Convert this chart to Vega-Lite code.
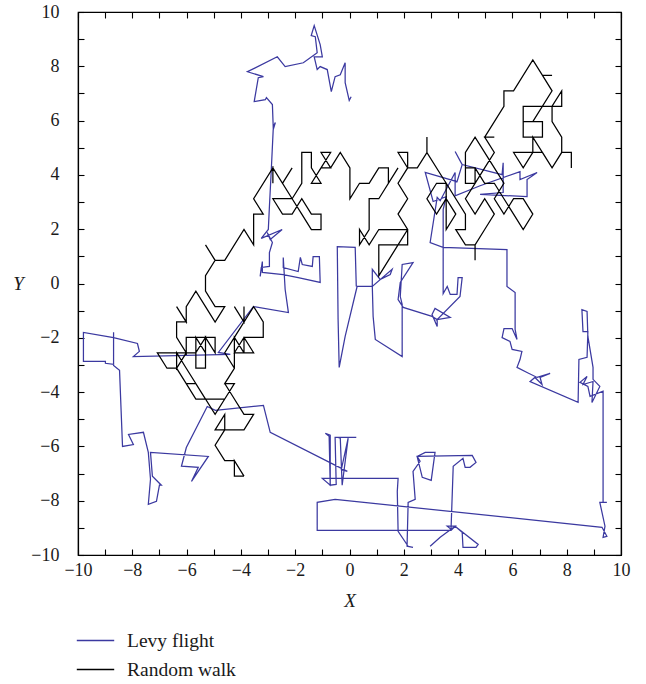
{
"$schema": "https://vega.github.io/schema/vega-lite/v6.json",
"width": 543, "height": 543,
"autosize": {"type": "none"},
"padding": {"left": 78, "top": 12, "right": 25, "bottom": 129},
"config": {
  "view": {"stroke": "black", "strokeWidth": 1.2},
  "font": "Liberation Serif",
  "axis": {"labelFont": "Liberation Serif", "titleFont": "Liberation Serif", "labelFontSize": 18, "titleFontSize": 19, "labelColor": "#1a1a1a", "titleColor": "#1a1a1a", "domainColor": "black", "tickColor": "black", "grid": false, "tickSize": -6, "tickWidth": 1.1, "domainWidth": 1.2, "labelFlush": false, "labelOverlap": false, "titleFontWeight": "normal"},
  "legend": {"labelFont": "Liberation Serif", "labelFontSize": 19.5, "labelColor": "#1a1a1a"}
},
"data": {"values": [
{"s":"Levy flight","o":1,"x":0.06,"y":6.88},{"s":"Levy flight","o":2,"x":-0.01,"y":6.74},{"s":"Levy flight","o":3,"x":-0.16,"y":7.40},{"s":"Levy flight","o":4,"x":-0.16,"y":8.13},{"s":"Levy flight","o":5,"x":-0.34,"y":7.69},{"s":"Levy flight","o":6,"x":-0.53,"y":7.62},{"s":"Levy flight","o":7,"x":-0.67,"y":7.07},{"s":"Levy flight","o":8,"x":-0.82,"y":7.88},{"s":"Levy flight","o":9,"x":-1.08,"y":7.99},{"s":"Levy flight","o":10,"x":-1.19,"y":7.88},
{"s":"Levy flight","o":11,"x":-1.30,"y":8.35},{"s":"Levy flight","o":12,"x":-1.00,"y":8.35},{"s":"Levy flight","o":13,"x":-1.08,"y":8.80},{"s":"Levy flight","o":14,"x":-1.30,"y":9.50},{"s":"Levy flight","o":15,"x":-1.41,"y":9.13},{"s":"Levy flight","o":16,"x":-1.26,"y":9.09},{"s":"Levy flight","o":17,"x":-1.19,"y":8.50},{"s":"Levy flight","o":18,"x":-1.70,"y":8.13},{"s":"Levy flight","o":19,"x":-2.37,"y":7.99},{"s":"Levy flight","o":20,"x":-2.66,"y":8.35},
{"s":"Levy flight","o":21,"x":-3.76,"y":7.80},{"s":"Levy flight","o":22,"x":-3.17,"y":7.62},{"s":"Levy flight","o":23,"x":-3.36,"y":7.58},{"s":"Levy flight","o":24,"x":-3.51,"y":6.70},{"s":"Levy flight","o":25,"x":-3.10,"y":6.77},{"s":"Levy flight","o":26,"x":-3.06,"y":6.85},{"s":"Levy flight","o":27,"x":-2.84,"y":6.59},{"s":"Levy flight","o":28,"x":-2.81,"y":5.78},{"s":"Levy flight","o":29,"x":-2.73,"y":5.93},{"s":"Levy flight","o":30,"x":-2.81,"y":5.67},
{"s":"Levy flight","o":31,"x":-2.88,"y":4.20},{"s":"Levy flight","o":32,"x":-2.95,"y":2.83},{"s":"Levy flight","o":33,"x":-2.99,"y":1.99},{"s":"Levy flight","o":34,"x":-3.25,"y":1.66},{"s":"Levy flight","o":35,"x":-2.48,"y":1.99},{"s":"Levy flight","o":36,"x":-2.92,"y":1.62},{"s":"Levy flight","o":37,"x":-3.03,"y":1.88},{"s":"Levy flight","o":38,"x":-2.84,"y":1.51},{"s":"Levy flight","o":39,"x":-2.95,"y":1.14},{"s":"Levy flight","o":40,"x":-2.95,"y":0.63},
{"s":"Levy flight","o":41,"x":-3.25,"y":0.59},{"s":"Levy flight","o":42,"x":-3.29,"y":0.26},{"s":"Levy flight","o":43,"x":-3.21,"y":0.81},{"s":"Levy flight","o":44,"x":-3.21,"y":0.41},{"s":"Levy flight","o":45,"x":-2.44,"y":0.33},{"s":"Levy flight","o":46,"x":-1.89,"y":0.22},{"s":"Levy flight","o":47,"x":-1.08,"y":0.04},{"s":"Levy flight","o":48,"x":-1.11,"y":0.99},{"s":"Levy flight","o":49,"x":-1.34,"y":0.99},{"s":"Levy flight","o":50,"x":-1.37,"y":0.63},
{"s":"Levy flight","o":51,"x":-1.74,"y":0.70},{"s":"Levy flight","o":52,"x":-1.81,"y":0.96},{"s":"Levy flight","o":53,"x":-1.89,"y":0.44},{"s":"Levy flight","o":54,"x":-2.44,"y":0.59},{"s":"Levy flight","o":55,"x":-2.44,"y":0.96},{"s":"Levy flight","o":56,"x":-2.37,"y":-0.22},{"s":"Levy flight","o":57,"x":-2.25,"y":-1.07},{"s":"Levy flight","o":58,"x":-3.54,"y":-0.85},{"s":"Levy flight","o":59,"x":-4.83,"y":-2.54},{"s":"Levy flight","o":60,"x":-4.39,"y":-2.61},
{"s":"Levy flight","o":61,"x":-7.96,"y":-2.69},{"s":"Levy flight","o":62,"x":-7.74,"y":-2.50},{"s":"Levy flight","o":63,"x":-7.81,"y":-2.21},{"s":"Levy flight","o":64,"x":-8.69,"y":-1.99},{"s":"Levy flight","o":65,"x":-9.80,"y":-1.80},{"s":"Levy flight","o":66,"x":-9.80,"y":-2.87},{"s":"Levy flight","o":67,"x":-8.99,"y":-2.87},{"s":"Levy flight","o":68,"x":-8.99,"y":-2.94},{"s":"Levy flight","o":69,"x":-8.69,"y":-2.98},{"s":"Levy flight","o":70,"x":-8.69,"y":-1.80},
{"s":"Levy flight","o":71,"x":-8.69,"y":-3.02},{"s":"Levy flight","o":72,"x":-8.47,"y":-3.20},{"s":"Levy flight","o":73,"x":-8.36,"y":-6.00},{"s":"Levy flight","o":74,"x":-7.96,"y":-5.93},{"s":"Levy flight","o":75,"x":-8.14,"y":-5.56},{"s":"Levy flight","o":76,"x":-7.59,"y":-5.48},{"s":"Levy flight","o":77,"x":-7.41,"y":-6.22},{"s":"Levy flight","o":78,"x":-7.33,"y":-7.21},{"s":"Levy flight","o":79,"x":-7.41,"y":-8.13},{"s":"Levy flight","o":80,"x":-7.11,"y":-8.02},
{"s":"Levy flight","o":81,"x":-7.00,"y":-7.43},{"s":"Levy flight","o":82,"x":-6.93,"y":-7.43},{"s":"Levy flight","o":83,"x":-7.26,"y":-7.10},{"s":"Levy flight","o":84,"x":-7.33,"y":-6.22},{"s":"Levy flight","o":85,"x":-5.20,"y":-6.37},{"s":"Levy flight","o":86,"x":-5.82,"y":-7.29},{"s":"Levy flight","o":87,"x":-5.57,"y":-6.77},{"s":"Levy flight","o":88,"x":-6.19,"y":-6.73},{"s":"Levy flight","o":89,"x":-6.01,"y":-6.04},{"s":"Levy flight","o":90,"x":-5.24,"y":-4.53},
{"s":"Levy flight","o":91,"x":-4.94,"y":-4.67},{"s":"Levy flight","o":92,"x":-3.17,"y":-4.49},{"s":"Levy flight","o":93,"x":-2.92,"y":-5.48},{"s":"Levy flight","o":94,"x":-0.08,"y":-6.92},{"s":"Levy flight","o":95,"x":-0.30,"y":-6.85},{"s":"Levy flight","o":96,"x":-0.05,"y":-5.70},{"s":"Levy flight","o":97,"x":-0.27,"y":-7.43},{"s":"Levy flight","o":98,"x":-0.34,"y":-5.70},{"s":"Levy flight","o":99,"x":-0.42,"y":-5.67},{"s":"Levy flight","o":100,"x":0.25,"y":-5.67},
{"s":"Levy flight","o":101,"x":-0.53,"y":-5.67},{"s":"Levy flight","o":102,"x":-0.49,"y":-7.40},{"s":"Levy flight","o":103,"x":-0.71,"y":-7.43},{"s":"Levy flight","o":104,"x":-0.75,"y":-5.63},{"s":"Levy flight","o":105,"x":-0.89,"y":-5.52},{"s":"Levy flight","o":106,"x":-0.71,"y":-5.59},{"s":"Levy flight","o":107,"x":-0.71,"y":-7.43},{"s":"Levy flight","o":108,"x":-1.00,"y":-7.18},{"s":"Levy flight","o":109,"x":1.79,"y":-7.18},{"s":"Levy flight","o":110,"x":1.76,"y":-7.66},
{"s":"Levy flight","o":111,"x":1.79,"y":-9.13},{"s":"Levy flight","o":112,"x":2.16,"y":-9.68},{"s":"Levy flight","o":113,"x":2.34,"y":-9.72},{"s":"Levy flight","o":114,"x":2.12,"y":-9.68},{"s":"Levy flight","o":115,"x":2.16,"y":-8.06},{"s":"Levy flight","o":116,"x":2.42,"y":-7.95},{"s":"Levy flight","o":117,"x":2.34,"y":-6.92},{"s":"Levy flight","o":118,"x":2.60,"y":-6.55},{"s":"Levy flight","o":119,"x":2.49,"y":-6.37},{"s":"Levy flight","o":120,"x":2.79,"y":-6.22},
{"s":"Levy flight","o":121,"x":3.15,"y":-6.22},{"s":"Levy flight","o":122,"x":3.01,"y":-7.25},{"s":"Levy flight","o":123,"x":2.68,"y":-7.14},{"s":"Levy flight","o":124,"x":2.49,"y":-6.37},{"s":"Levy flight","o":125,"x":4.52,"y":-6.33},{"s":"Levy flight","o":126,"x":4.66,"y":-6.59},{"s":"Levy flight","o":127,"x":4.44,"y":-6.77},{"s":"Levy flight","o":128,"x":4.26,"y":-6.77},{"s":"Levy flight","o":129,"x":4.18,"y":-6.44},{"s":"Levy flight","o":130,"x":3.82,"y":-6.73},
{"s":"Levy flight","o":131,"x":3.74,"y":-9.05},{"s":"Levy flight","o":132,"x":3.60,"y":-8.94},{"s":"Levy flight","o":133,"x":3.89,"y":-8.94},{"s":"Levy flight","o":134,"x":3.34,"y":-9.35},{"s":"Levy flight","o":135,"x":2.97,"y":-9.68},{"s":"Levy flight","o":136,"x":3.34,"y":-9.35},{"s":"Levy flight","o":137,"x":3.89,"y":-8.94},{"s":"Levy flight","o":138,"x":4.74,"y":-9.61},{"s":"Levy flight","o":139,"x":4.66,"y":-9.72},{"s":"Levy flight","o":140,"x":4.18,"y":-9.72},
{"s":"Levy flight","o":141,"x":4.15,"y":-9.16},{"s":"Levy flight","o":142,"x":3.89,"y":-8.94},{"s":"Levy flight","o":143,"x":3.74,"y":-9.09},{"s":"Levy flight","o":144,"x":-1.19,"y":-9.09},{"s":"Levy flight","o":145,"x":-1.19,"y":-8.06},{"s":"Levy flight","o":146,"x":-0.53,"y":-7.95},{"s":"Levy flight","o":147,"x":9.30,"y":-8.98},{"s":"Levy flight","o":148,"x":9.48,"y":-9.31},{"s":"Levy flight","o":149,"x":9.34,"y":-9.35},{"s":"Levy flight","o":150,"x":9.41,"y":-8.94},
{"s":"Levy flight","o":151,"x":9.22,"y":-8.06},{"s":"Levy flight","o":152,"x":9.48,"y":-8.06},{"s":"Levy flight","o":153,"x":9.34,"y":-8.06},{"s":"Levy flight","o":154,"x":9.34,"y":-3.97},{"s":"Levy flight","o":155,"x":8.86,"y":-4.16},{"s":"Levy flight","o":156,"x":8.78,"y":-3.79},{"s":"Levy flight","o":157,"x":8.49,"y":-3.64},{"s":"Levy flight","o":158,"x":8.75,"y":-3.42},{"s":"Levy flight","o":159,"x":8.60,"y":-3.72},{"s":"Levy flight","o":160,"x":8.97,"y":-3.61},
{"s":"Levy flight","o":161,"x":8.93,"y":-4.38},{"s":"Levy flight","o":162,"x":9.04,"y":-4.16},{"s":"Levy flight","o":163,"x":9.22,"y":-3.79},{"s":"Levy flight","o":164,"x":8.97,"y":-3.53},{"s":"Levy flight","o":165,"x":8.97,"y":-3.09},{"s":"Levy flight","o":166,"x":8.78,"y":-1.95},{"s":"Levy flight","o":167,"x":8.75,"y":-1.03},{"s":"Levy flight","o":168,"x":8.56,"y":-0.96},{"s":"Levy flight","o":169,"x":8.60,"y":-1.77},{"s":"Levy flight","o":170,"x":8.78,"y":-1.77},
{"s":"Levy flight","o":171,"x":8.75,"y":-2.72},{"s":"Levy flight","o":172,"x":8.45,"y":-2.80},{"s":"Levy flight","o":173,"x":8.42,"y":-4.38},{"s":"Levy flight","o":174,"x":6.65,"y":-3.61},{"s":"Levy flight","o":175,"x":6.83,"y":-3.46},{"s":"Levy flight","o":176,"x":7.09,"y":-3.72},{"s":"Levy flight","o":177,"x":7.02,"y":-3.46},{"s":"Levy flight","o":178,"x":7.39,"y":-3.31},{"s":"Levy flight","o":179,"x":6.91,"y":-3.46},{"s":"Levy flight","o":180,"x":6.54,"y":-3.28},
{"s":"Levy flight","o":181,"x":6.17,"y":-3.09},{"s":"Levy flight","o":182,"x":6.28,"y":-2.80},{"s":"Levy flight","o":183,"x":6.35,"y":-2.50},{"s":"Levy flight","o":184,"x":5.99,"y":-2.43},{"s":"Levy flight","o":185,"x":5.91,"y":-2.13},{"s":"Levy flight","o":186,"x":5.62,"y":-1.99},{"s":"Levy flight","o":187,"x":5.69,"y":-1.66},{"s":"Levy flight","o":188,"x":5.99,"y":-1.66},{"s":"Levy flight","o":189,"x":6.17,"y":-2.06},{"s":"Levy flight","o":190,"x":6.10,"y":-1.69},
{"s":"Levy flight","o":191,"x":6.10,"y":-0.33},{"s":"Levy flight","o":192,"x":5.80,"y":-0.11},{"s":"Levy flight","o":193,"x":5.80,"y":0.52},{"s":"Levy flight","o":194,"x":5.80,"y":1.25},{"s":"Levy flight","o":195,"x":3.45,"y":1.33},{"s":"Levy flight","o":196,"x":3.45,"y":2.72},{"s":"Levy flight","o":197,"x":3.56,"y":3.20},{"s":"Levy flight","o":198,"x":3.08,"y":3.02},{"s":"Levy flight","o":199,"x":2.79,"y":4.09},{"s":"Levy flight","o":200,"x":3.96,"y":3.75},
{"s":"Levy flight","o":201,"x":4.15,"y":4.38},{"s":"Levy flight","o":202,"x":3.89,"y":4.86},{"s":"Levy flight","o":203,"x":4.15,"y":4.38},{"s":"Levy flight","o":204,"x":5.62,"y":4.01},{"s":"Levy flight","o":205,"x":5.66,"y":4.45},{"s":"Levy flight","o":206,"x":5.66,"y":3.35},{"s":"Levy flight","o":207,"x":4.81,"y":3.28},{"s":"Levy flight","o":208,"x":6.54,"y":3.20},{"s":"Levy flight","o":209,"x":6.54,"y":3.83},{"s":"Levy flight","o":210,"x":6.91,"y":4.09},
{"s":"Levy flight","o":211,"x":6.28,"y":3.83},{"s":"Levy flight","o":212,"x":6.28,"y":4.12},{"s":"Levy flight","o":213,"x":4.81,"y":3.60},{"s":"Levy flight","o":213.5,"x":3.89,"y":3.23},{"s":"Levy flight","o":213.7,"x":3.89,"y":4.09},{"s":"Levy flight","o":214,"x":3.34,"y":3.05},{"s":"Levy flight","o":215,"x":3.23,"y":3.17},{"s":"Levy flight","o":216,"x":2.97,"y":1.51},{"s":"Levy flight","o":217,"x":3.45,"y":1.33},{"s":"Levy flight","o":218,"x":3.45,"y":0.07},{"s":"Levy flight","o":219,"x":3.45,"y":-0.37},{"s":"Levy flight","o":220,"x":3.60,"y":-0.11},
{"s":"Levy flight","o":221,"x":3.71,"y":-0.40},{"s":"Levy flight","o":222,"x":3.96,"y":-0.40},{"s":"Levy flight","o":223,"x":4.00,"y":0.22},{"s":"Levy flight","o":224,"x":4.15,"y":0.22},{"s":"Levy flight","o":225,"x":4.07,"y":-0.48},{"s":"Levy flight","o":226,"x":3.23,"y":-1.33},{"s":"Levy flight","o":227,"x":3.71,"y":-1.25},{"s":"Levy flight","o":228,"x":3.15,"y":-0.92},{"s":"Levy flight","o":229,"x":3.04,"y":-1.14},{"s":"Levy flight","o":230,"x":3.23,"y":-1.58},
{"s":"Levy flight","o":231,"x":3.23,"y":-1.33},{"s":"Levy flight","o":232,"x":3.04,"y":-1.21},{"s":"Levy flight","o":233,"x":1.98,"y":-0.88},{"s":"Levy flight","o":234,"x":1.79,"y":-0.59},{"s":"Levy flight","o":235,"x":1.87,"y":0.04},{"s":"Levy flight","o":236,"x":2.34,"y":0.77},{"s":"Levy flight","o":237,"x":1.94,"y":0.70},{"s":"Levy flight","o":238,"x":1.87,"y":-0.48},{"s":"Levy flight","o":239,"x":1.94,"y":-0.77},{"s":"Levy flight","o":240,"x":1.94,"y":-2.69},
{"s":"Levy flight","o":241,"x":0.95,"y":-2.06},{"s":"Levy flight","o":242,"x":0.87,"y":-1.21},{"s":"Levy flight","o":243,"x":0.84,"y":-0.11},{"s":"Levy flight","o":244,"x":0.84,"y":0.52},{"s":"Levy flight","o":245,"x":1.13,"y":0.15},{"s":"Levy flight","o":246,"x":1.50,"y":0.33},{"s":"Levy flight","o":247,"x":1.57,"y":0.52},{"s":"Levy flight","o":248,"x":0.84,"y":-0.11},{"s":"Levy flight","o":249,"x":0.28,"y":-0.11},{"s":"Levy flight","o":250,"x":-0.16,"y":-1.95},
{"s":"Levy flight","o":251,"x":-0.38,"y":-3.09},{"s":"Levy flight","o":252,"x":-0.42,"y":-1.33},{"s":"Levy flight","o":253,"x":-0.45,"y":1.36},{"s":"Levy flight","o":254,"x":0.21,"y":1.33},{"s":"Levy flight","o":255,"x":0.25,"y":-0.11},
{"s":"Random walk","o":1,"x":-3.886,"y":-7.092},{"s":"Random walk","o":2,"x":-4.240,"y":-7.092},{"s":"Random walk","o":3,"x":-4.240,"y":-6.525},{"s":"Random walk","o":4,"x":-3.886,"y":-7.092},{"s":"Random walk","o":5,"x":-4.240,"y":-6.525},{"s":"Random walk","o":6,"x":-4.595,"y":-6.525},{"s":"Random walk","o":7,"x":-4.950,"y":-5.957},{"s":"Random walk","o":8,"x":-4.595,"y":-5.390},{"s":"Random walk","o":9,"x":-4.950,"y":-5.390},{"s":"Random walk","o":10,"x":-4.595,"y":-4.822},
{"s":"Random walk","o":11,"x":-4.595,"y":-5.390},{"s":"Random walk","o":12,"x":-3.886,"y":-5.390},{"s":"Random walk","o":13,"x":-3.531,"y":-4.822},{"s":"Random walk","o":14,"x":-3.886,"y":-4.822},{"s":"Random walk","o":15,"x":-4.240,"y":-4.255},{"s":"Random walk","o":16,"x":-4.595,"y":-3.687},{"s":"Random walk","o":17,"x":-4.240,"y":-3.120},{"s":"Random walk","o":18,"x":-4.240,"y":-1.985},{"s":"Random walk","o":19,"x":-3.886,"y":-2.552},{"s":"Random walk","o":20,"x":-3.531,"y":-2.552},
{"s":"Random walk","o":21,"x":-3.886,"y":-1.985},{"s":"Random walk","o":22,"x":-4.240,"y":-2.552},{"s":"Random walk","o":23,"x":-3.886,"y":-2.552},{"s":"Random walk","o":24,"x":-3.886,"y":-1.985},{"s":"Random walk","o":25,"x":-3.177,"y":-1.985},{"s":"Random walk","o":26,"x":-3.177,"y":-1.417},{"s":"Random walk","o":27,"x":-3.531,"y":-0.850},{"s":"Random walk","o":28,"x":-3.886,"y":-1.417},{"s":"Random walk","o":29,"x":-4.240,"y":-0.850},{"s":"Random walk","o":30,"x":-3.886,"y":-1.417},
{"s":"Random walk","o":31,"x":-3.886,"y":-0.850},{"s":"Random walk","o":32,"x":-3.886,"y":-1.417},{"s":"Random walk","o":33,"x":-4.240,"y":-1.985},{"s":"Random walk","o":34,"x":-4.595,"y":-2.552},{"s":"Random walk","o":35,"x":-4.240,"y":-3.120},{"s":"Random walk","o":36,"x":-4.595,"y":-3.687},{"s":"Random walk","o":37,"x":-4.240,"y":-3.687},{"s":"Random walk","o":38,"x":-4.595,"y":-4.255},{"s":"Random walk","o":39,"x":-4.950,"y":-4.822},{"s":"Random walk","o":40,"x":-6.013,"y":-3.120},
{"s":"Random walk","o":41,"x":-6.368,"y":-2.552},{"s":"Random walk","o":42,"x":-6.368,"y":-3.120},{"s":"Random walk","o":43,"x":-6.013,"y":-2.552},{"s":"Random walk","o":44,"x":-6.368,"y":-2.552},{"s":"Random walk","o":45,"x":-7.077,"y":-2.552},{"s":"Random walk","o":46,"x":-6.723,"y":-3.120},{"s":"Random walk","o":47,"x":-6.368,"y":-3.120},{"s":"Random walk","o":48,"x":-5.659,"y":-4.255},{"s":"Random walk","o":49,"x":-4.595,"y":-4.255},{"s":"Random walk","o":50,"x":-5.304,"y":-4.255},
{"s":"Random walk","o":51,"x":-5.659,"y":-3.687},{"s":"Random walk","o":52,"x":-6.013,"y":-3.687},{"s":"Random walk","o":53,"x":-6.368,"y":-3.120},{"s":"Random walk","o":54,"x":-6.368,"y":-2.552},{"s":"Random walk","o":55,"x":-5.659,"y":-2.552},{"s":"Random walk","o":56,"x":-5.659,"y":-1.985},{"s":"Random walk","o":57,"x":-5.304,"y":-2.552},{"s":"Random walk","o":58,"x":-5.304,"y":-1.985},{"s":"Random walk","o":59,"x":-5.659,"y":-2.552},{"s":"Random walk","o":60,"x":-5.659,"y":-3.120},
{"s":"Random walk","o":61,"x":-5.304,"y":-3.120},{"s":"Random walk","o":62,"x":-5.304,"y":-1.985},{"s":"Random walk","o":63,"x":-4.950,"y":-2.552},{"s":"Random walk","o":64,"x":-4.950,"y":-1.985},{"s":"Random walk","o":65,"x":-6.013,"y":-1.985},{"s":"Random walk","o":66,"x":-6.013,"y":-2.552},{"s":"Random walk","o":67,"x":-6.368,"y":-1.985},{"s":"Random walk","o":68,"x":-6.368,"y":-1.417},{"s":"Random walk","o":69,"x":-6.013,"y":-1.417},{"s":"Random walk","o":70,"x":-6.368,"y":-0.850},
{"s":"Random walk","o":71,"x":-6.013,"y":-1.417},{"s":"Random walk","o":72,"x":-6.013,"y":-0.850},{"s":"Random walk","o":73,"x":-5.659,"y":-0.282},{"s":"Random walk","o":74,"x":-5.304,"y":-0.850},{"s":"Random walk","o":75,"x":-4.950,"y":-1.417},{"s":"Random walk","o":76,"x":-4.595,"y":-0.850},{"s":"Random walk","o":77,"x":-4.950,"y":-0.850},{"s":"Random walk","o":78,"x":-5.304,"y":-0.282},{"s":"Random walk","o":79,"x":-5.304,"y":0.286},{"s":"Random walk","o":80,"x":-4.950,"y":0.853},
{"s":"Random walk","o":81,"x":-5.304,"y":1.421},{"s":"Random walk","o":82,"x":-4.950,"y":0.853},{"s":"Random walk","o":83,"x":-4.595,"y":0.853},{"s":"Random walk","o":84,"x":-3.886,"y":1.988},{"s":"Random walk","o":85,"x":-3.531,"y":1.421},{"s":"Random walk","o":86,"x":-3.531,"y":2.556},{"s":"Random walk","o":87,"x":-3.177,"y":2.556},{"s":"Random walk","o":88,"x":-3.531,"y":3.123},{"s":"Random walk","o":89,"x":-2.822,"y":4.258},{"s":"Random walk","o":90,"x":-2.822,"y":3.691},
{"s":"Random walk","o":91,"x":-2.822,"y":4.258},{"s":"Random walk","o":92,"x":-2.467,"y":3.691},{"s":"Random walk","o":93,"x":-2.113,"y":4.258},{"s":"Random walk","o":94,"x":-2.467,"y":3.691},{"s":"Random walk","o":95,"x":-2.113,"y":3.123},{"s":"Random walk","o":96,"x":-1.758,"y":2.556},{"s":"Random walk","o":97,"x":-1.404,"y":1.988},{"s":"Random walk","o":98,"x":-1.049,"y":1.988},{"s":"Random walk","o":99,"x":-1.049,"y":2.556},{"s":"Random walk","o":100,"x":-1.404,"y":2.556},
{"s":"Random walk","o":101,"x":-1.758,"y":3.123},{"s":"Random walk","o":102,"x":-2.113,"y":2.556},{"s":"Random walk","o":103,"x":-2.467,"y":2.556},{"s":"Random walk","o":104,"x":-2.822,"y":3.123},{"s":"Random walk","o":105,"x":-2.467,"y":3.123},{"s":"Random walk","o":106,"x":-2.113,"y":3.123},{"s":"Random walk","o":107,"x":-1.758,"y":3.691},{"s":"Random walk","o":108,"x":-1.758,"y":4.826},{"s":"Random walk","o":109,"x":-1.404,"y":4.826},{"s":"Random walk","o":110,"x":-1.404,"y":4.258},
{"s":"Random walk","o":111,"x":-1.049,"y":3.691},{"s":"Random walk","o":112,"x":-1.404,"y":3.691},{"s":"Random walk","o":113,"x":-1.049,"y":4.258},{"s":"Random walk","o":114,"x":-0.694,"y":4.826},{"s":"Random walk","o":115,"x":-1.049,"y":4.826},{"s":"Random walk","o":116,"x":-0.694,"y":4.258},{"s":"Random walk","o":117,"x":-1.049,"y":4.258},{"s":"Random walk","o":118,"x":-0.694,"y":4.258},{"s":"Random walk","o":119,"x":-0.340,"y":4.826},{"s":"Random walk","o":120,"x":0.015,"y":4.258},
{"s":"Random walk","o":121,"x":0.015,"y":3.123},{"s":"Random walk","o":122,"x":0.369,"y":3.691},{"s":"Random walk","o":123,"x":0.724,"y":3.691},{"s":"Random walk","o":124,"x":1.079,"y":4.258},{"s":"Random walk","o":125,"x":1.433,"y":4.258},{"s":"Random walk","o":126,"x":1.433,"y":3.691},{"s":"Random walk","o":127,"x":1.788,"y":4.258},{"s":"Random walk","o":128,"x":1.079,"y":3.123},{"s":"Random walk","o":129,"x":0.724,"y":3.123},{"s":"Random walk","o":130,"x":0.724,"y":1.988},
{"s":"Random walk","o":131,"x":0.369,"y":1.421},{"s":"Random walk","o":132,"x":0.369,"y":1.988},{"s":"Random walk","o":133,"x":0.724,"y":1.421},{"s":"Random walk","o":134,"x":1.079,"y":1.988},{"s":"Random walk","o":135,"x":2.142,"y":1.988},{"s":"Random walk","o":136,"x":2.142,"y":1.421},{"s":"Random walk","o":137,"x":1.079,"y":1.421},{"s":"Random walk","o":138,"x":1.079,"y":0.286},{"s":"Random walk","o":139,"x":1.433,"y":0.853},{"s":"Random walk","o":140,"x":1.788,"y":1.421},
{"s":"Random walk","o":141,"x":2.142,"y":1.988},{"s":"Random walk","o":142,"x":1.788,"y":2.556},{"s":"Random walk","o":143,"x":2.142,"y":3.123},{"s":"Random walk","o":144,"x":1.788,"y":3.691},{"s":"Random walk","o":145,"x":2.142,"y":4.258},{"s":"Random walk","o":146,"x":1.788,"y":4.826},{"s":"Random walk","o":147,"x":2.142,"y":4.826},{"s":"Random walk","o":148,"x":2.142,"y":4.258},{"s":"Random walk","o":149,"x":2.497,"y":4.258},{"s":"Random walk","o":150,"x":2.852,"y":4.826},
{"s":"Random walk","o":151,"x":2.852,"y":5.393},{"s":"Random walk","o":152,"x":2.852,"y":4.826},{"s":"Random walk","o":153,"x":3.561,"y":3.691},{"s":"Random walk","o":154,"x":3.206,"y":3.691},{"s":"Random walk","o":155,"x":2.852,"y":3.123},{"s":"Random walk","o":156,"x":3.206,"y":2.556},{"s":"Random walk","o":157,"x":3.561,"y":3.123},{"s":"Random walk","o":158,"x":3.915,"y":2.556},{"s":"Random walk","o":159,"x":3.561,"y":1.988},{"s":"Random walk","o":160,"x":3.561,"y":3.691},
{"s":"Random walk","o":161,"x":3.915,"y":3.123},{"s":"Random walk","o":162,"x":4.270,"y":2.556},{"s":"Random walk","o":163,"x":4.270,"y":1.988},{"s":"Random walk","o":164,"x":3.915,"y":1.988},{"s":"Random walk","o":165,"x":4.270,"y":1.421},{"s":"Random walk","o":166,"x":4.625,"y":1.421},{"s":"Random walk","o":167,"x":4.625,"y":0.853},{"s":"Random walk","o":168,"x":4.625,"y":1.421},{"s":"Random walk","o":169,"x":4.979,"y":1.988},{"s":"Random walk","o":170,"x":5.334,"y":2.556},
{"s":"Random walk","o":171,"x":4.979,"y":3.123},{"s":"Random walk","o":172,"x":4.625,"y":2.556},{"s":"Random walk","o":173,"x":4.270,"y":3.123},{"s":"Random walk","o":174,"x":4.625,"y":3.691},{"s":"Random walk","o":175,"x":4.270,"y":3.691},{"s":"Random walk","o":176,"x":4.270,"y":4.826},{"s":"Random walk","o":177,"x":4.625,"y":5.393},{"s":"Random walk","o":178,"x":5.334,"y":4.258},{"s":"Random walk","o":179,"x":5.688,"y":3.691},{"s":"Random walk","o":180,"x":5.334,"y":3.123},
{"s":"Random walk","o":181,"x":5.688,"y":2.556},{"s":"Random walk","o":182,"x":6.043,"y":3.123},{"s":"Random walk","o":183,"x":6.398,"y":3.123},{"s":"Random walk","o":184,"x":6.752,"y":2.556},{"s":"Random walk","o":185,"x":6.398,"y":1.988},{"s":"Random walk","o":186,"x":6.043,"y":2.556},{"s":"Random walk","o":187,"x":5.688,"y":3.123},{"s":"Random walk","o":188,"x":5.334,"y":3.691},{"s":"Random walk","o":189,"x":4.979,"y":3.691},{"s":"Random walk","o":190,"x":4.625,"y":4.258},
{"s":"Random walk","o":191,"x":4.270,"y":4.258},{"s":"Random walk","o":192,"x":4.625,"y":4.258},{"s":"Random walk","o":193,"x":4.625,"y":3.691},{"s":"Random walk","o":194,"x":4.979,"y":4.258},{"s":"Random walk","o":195,"x":5.334,"y":4.826},{"s":"Random walk","o":196,"x":4.979,"y":5.393},{"s":"Random walk","o":197,"x":5.334,"y":5.393},{"s":"Random walk","o":198,"x":4.979,"y":5.393},{"s":"Random walk","o":199,"x":5.688,"y":6.528},{"s":"Random walk","o":200,"x":5.688,"y":7.096},
{"s":"Random walk","o":201,"x":6.043,"y":7.096},{"s":"Random walk","o":202,"x":6.752,"y":8.231},{"s":"Random walk","o":203,"x":7.107,"y":7.663},{"s":"Random walk","o":204,"x":7.461,"y":7.663},{"s":"Random walk","o":205,"x":7.107,"y":7.663},{"s":"Random walk","o":206,"x":7.461,"y":7.096},{"s":"Random walk","o":207,"x":6.752,"y":5.961},{"s":"Random walk","o":208,"x":6.398,"y":5.961},{"s":"Random walk","o":209,"x":7.107,"y":5.961},{"s":"Random walk","o":210,"x":7.107,"y":5.393},
{"s":"Random walk","o":211,"x":6.398,"y":5.393},{"s":"Random walk","o":212,"x":6.398,"y":6.528},{"s":"Random walk","o":213,"x":7.816,"y":6.528},{"s":"Random walk","o":214,"x":7.816,"y":7.096},{"s":"Random walk","o":215,"x":7.461,"y":6.528},{"s":"Random walk","o":216,"x":7.461,"y":5.961},{"s":"Random walk","o":217,"x":7.816,"y":5.393},{"s":"Random walk","o":218,"x":7.816,"y":4.826},{"s":"Random walk","o":219,"x":7.461,"y":4.258},{"s":"Random walk","o":220,"x":6.752,"y":5.393},
{"s":"Random walk","o":221,"x":6.752,"y":4.826},{"s":"Random walk","o":222,"x":6.043,"y":4.826},{"s":"Random walk","o":223,"x":6.398,"y":4.258},{"s":"Random walk","o":224,"x":6.752,"y":4.826},{"s":"Random walk","o":225,"x":7.107,"y":4.826},{"s":"Random walk","o":226,"x":7.461,"y":4.258},{"s":"Random walk","o":227,"x":7.816,"y":4.826},{"s":"Random walk","o":228,"x":8.171,"y":4.826},{"s":"Random walk","o":229,"x":8.171,"y":4.258}
]},
"layer": [
  {
    "mark": {"type": "line", "strokeWidth": 1.25},
    "encoding": {
      "x": {"field": "x", "type": "quantitative", "scale": {"domain": [-10, 10], "nice": false, "zero": false},
            "axis": {"orient": "bottom", "values": [-10,-9,-8,-7,-6,-5,-4,-3,-2,-1,0,1,2,3,4,5,6,7,8,9,10], "labelExpr": "datum.value % 2 == 0 ? replace(format(datum.value, 'd'), '-', '−') : ''", "labelPadding": 12, "title": "X", "titleFontStyle": "italic", "titlePadding": 12}},
      "y": {"field": "y", "type": "quantitative", "scale": {"domain": [-10, 10], "nice": false, "zero": false},
            "axis": {"orient": "left", "values": [-10,-9,-8,-7,-6,-5,-4,-3,-2,-1,0,1,2,3,4,5,6,7,8,9,10], "labelExpr": "datum.value % 2 == 0 ? replace(format(datum.value, 'd'), '-', '−') : ''", "labelPadding": 25, "title": "Y", "titleFontStyle": "italic", "titleAngle": 0, "titleAlign": "center", "titleBaseline": "middle", "titleX": -60, "titleY": 271}},
      "color": {"field": "s", "type": "nominal", "scale": {"domain": ["Levy flight", "Random walk"], "range": ["#3b39a0", "#000000"]},
                "legend": {"title": null, "orient": "none", "legendX": -2, "legendY": 609, "direction": "vertical", "symbolType": "stroke", "symbolSize": 1400, "symbolStrokeWidth": 1.5, "labelOffset": 12, "rowPadding": -9}},
      "order": {"field": "o", "type": "quantitative"}
    }
  },
  {
    "mark": {"type": "point", "opacity": 0},
    "encoding": {
      "x": {"field": "x", "type": "quantitative", "scale": {"domain": [-10, 10], "nice": false, "zero": false},
            "axis": {"orient": "top", "values": [-10,-9,-8,-7,-6,-5,-4,-3,-2,-1,0,1,2,3,4,5,6,7,8,9,10], "labels": false, "title": null}},
      "y": {"field": "y", "type": "quantitative", "scale": {"domain": [-10, 10], "nice": false, "zero": false},
            "axis": {"orient": "right", "values": [-10,-9,-8,-7,-6,-5,-4,-3,-2,-1,0,1,2,3,4,5,6,7,8,9,10], "labels": false, "title": null}}
    }
  }
],
"resolve": {"axis": {"x": "independent", "y": "independent"}}
}
